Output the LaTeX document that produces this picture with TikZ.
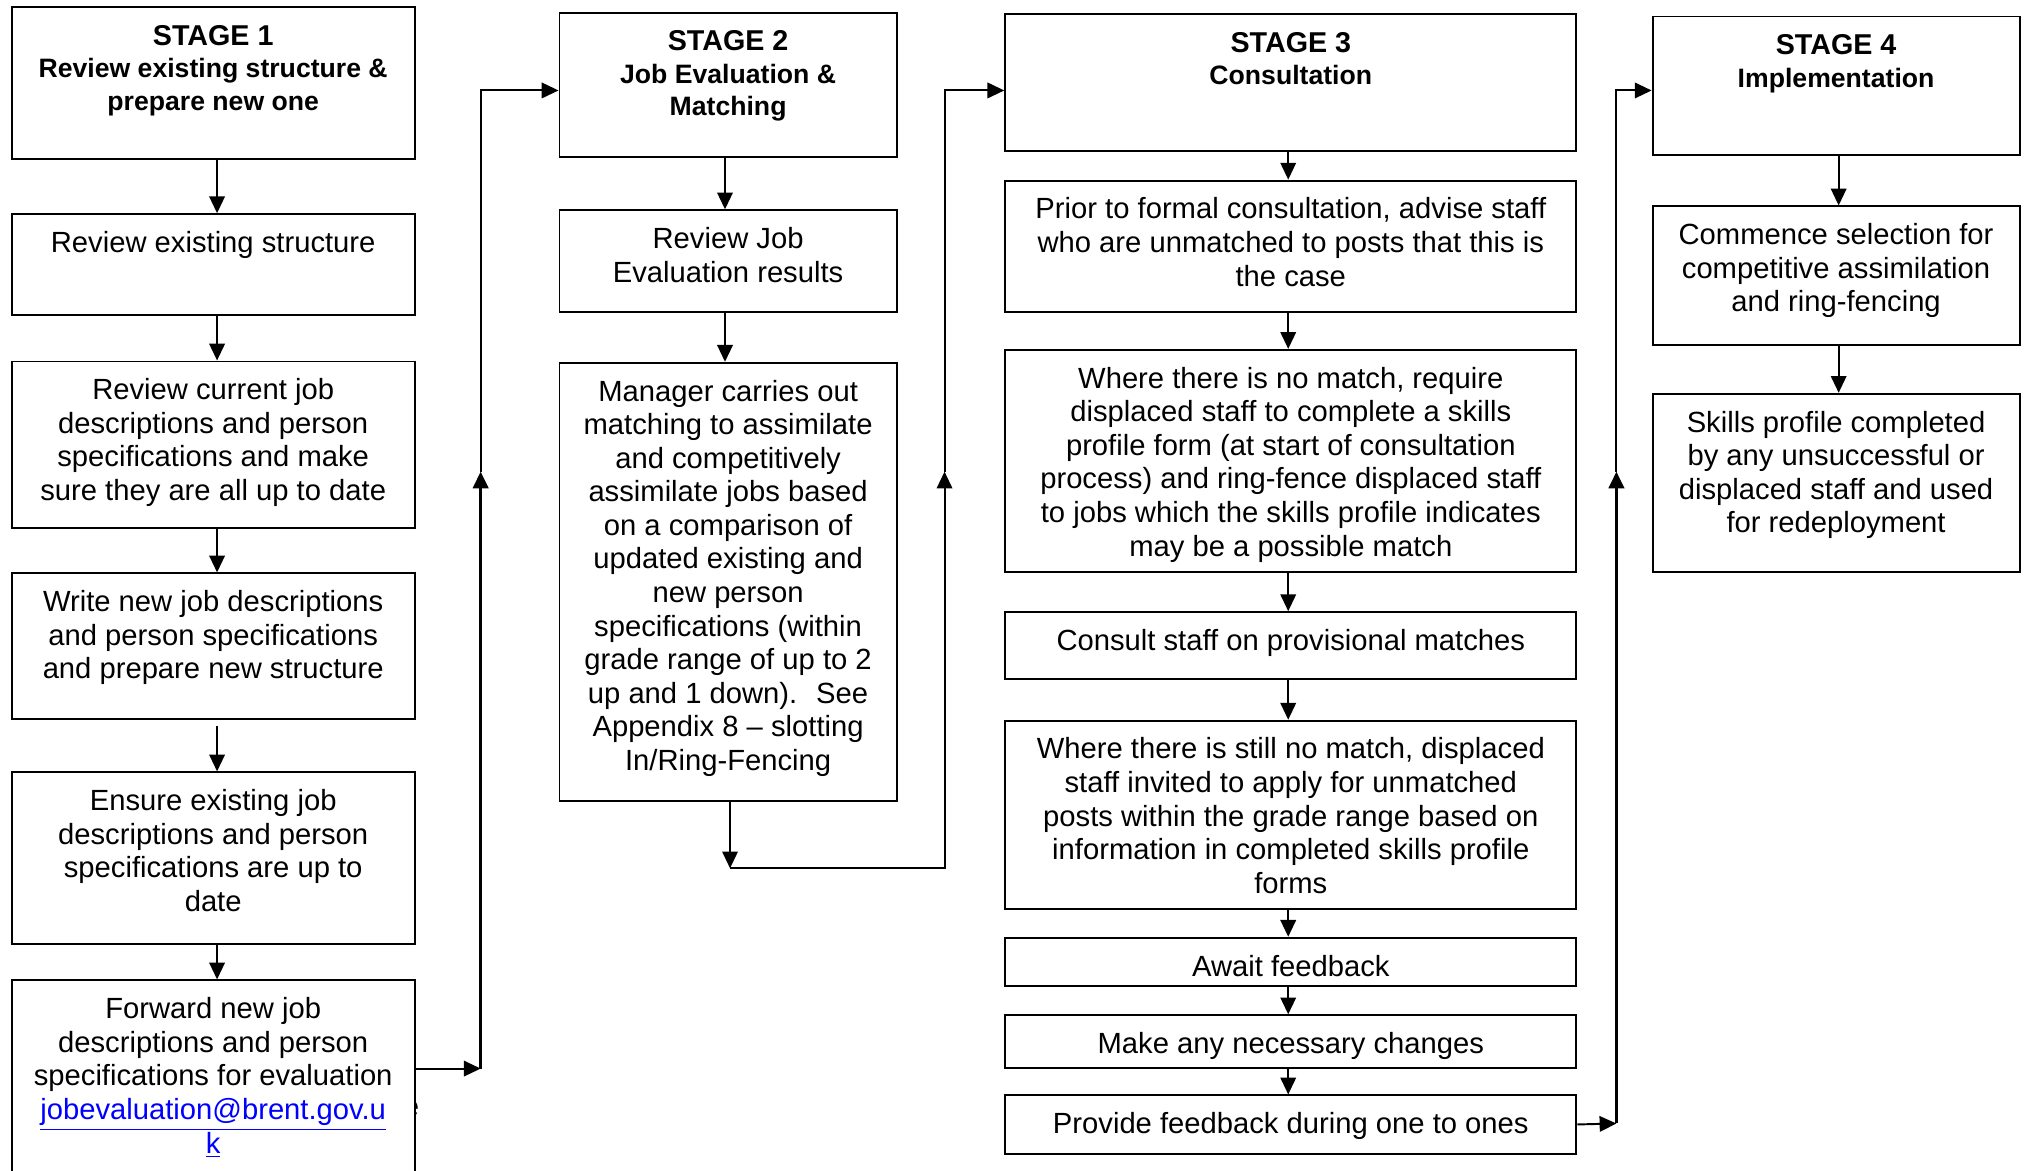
\documentclass[tikz,border=0pt]{standalone}
\usepackage{fontspec}
\setmainfont{Liberation Sans}
\usetikzlibrary{arrows.meta}
\definecolor{linkblue}{RGB}{0,0,255}
\newcommand\lnk[1]{\textcolor{linkblue}{\underline{#1}}}
\newcommand\tb[3]{\begin{minipage}[t][\dimexpr#2pt/2\relax][t]{\dimexpr#1pt/2\relax}\centering\fontsize{11.3}{13}\selectfont\rule{0pt}{14.8pt}#3\end{minipage}}
\newcommand\hb[4]{\begin{minipage}[t][\dimexpr#2pt/2\relax][t]{\dimexpr#1pt/2\relax}\centering\bfseries\fontsize{11.1}{12.5}\selectfont\rule{0pt}{14.8pt}#3\\\fontsize{10.3}{12.5}\selectfont #4\end{minipage}}
\tikzset{
  box/.style={draw, line width=0.75pt, inner sep=0pt, anchor=north},
  arr/.style={-{Triangle[length=6.5pt,width=6pt]}, line width=0.75pt},
  thickline/.style={line width=1.1pt},
}
\begin{document}
\begin{tikzpicture}[x=0.5pt,y=-0.5pt]
\useasboundingbox (0,0) rectangle (1568,906);
\clip (0,0) rectangle (1568,906);
% Column 1
\node[box] (s1) at (165,5) {\hb{312}{117}{STAGE 1}{Review existing structure \&\\prepare new one}};
\node[box] (b1a) at (165,165) {\tb{312}{78}{Review existing structure}};
\node[box] (b1b) at (165,279) {\tb{312}{129}{Review current job\\descriptions and person\\specifications and make\\sure they are all up to date}};
\node[box] (b1c) at (165,443) {\tb{312}{113}{Write new job descriptions\\and person specifications\\and prepare new structure}};
\node[box] (b1d) at (165,597) {\tb{312}{133}{Ensure existing job\\descriptions and person\\specifications are up to\\date}};
\node[inner sep=0pt] (stray) at (318,858) {\fontsize{11.3}{13}\selectfont e};
\node[box, fill=white] (b1e) at (165,758) {\tb{312}{172}{Forward new job\\descriptions and person\\specifications for evaluation\\\lnk{jobevaluation@brent.gov.u}\\\lnk{k}}};
% Column 2
\node[box] (s2) at (563.5,9) {\hb{261}{112}{STAGE 2}{Job Evaluation \&\\Matching}};
\node[box] (b2a) at (563.5,162) {\tb{261}{79}{Review Job\\Evaluation results}};
\node[box] (b2b) at (563.5,280) {\tb{261}{339}{Manager carries out\\matching to assimilate\\and competitively\\assimilate jobs based\\on a comparison of\\updated existing and\\new person\\specifications (within\\grade range of up to 2\\up and 1 down). \ See\\Appendix 8 -- slotting\\In/Ring-Fencing}};
% Column 3
\node[box] (s3) at (999,10) {\hb{442}{106}{STAGE 3}{Consultation}};
\node[box] (b3a) at (999,139) {\tb{442}{102}{Prior to formal consultation, advise staff\\who are unmatched to posts that this is\\the case}};
\node[box] (b3b) at (999,270) {\tb{442}{172}{Where there is no match, require\\displaced staff to complete a skills\\profile form (at start of consultation\\process) and ring-fence displaced staff\\to jobs which the skills profile indicates\\may be a possible match}};
\node[box] (b3c) at (999,473) {\tb{442}{52}{Consult staff on provisional matches}};
\node[box] (b3d) at (999,557) {\tb{442}{146}{Where there is still no match, displaced\\staff invited to apply for unmatched\\posts within the grade range based on\\information in completed skills profile\\forms}};
\node[box] (b3e) at (999,725) {\tb{442}{37}{Await feedback}};
\node[box] (b3f) at (999,785) {\tb{442}{41}{Make any necessary changes}};
\node[box] (b3g) at (999,847) {\tb{442}{45}{Provide feedback during one to ones}};
% Column 4
\node[box] (s4) at (1421,12) {\hb{284}{107}{STAGE 4}{Implementation}};
\node[box] (b4a) at (1421,159) {\tb{284}{107}{Commence selection for\\competitive assimilation\\and ring-fencing}};
\node[box] (b4b) at (1421,304) {\tb{284}{138}{Skills profile completed\\by any unsuccessful or\\displaced staff and used\\for redeployment}};
% vertical arrows within columns
\draw[arr] ([xshift=1.5pt]s1.south) -- ([xshift=1.5pt]b1a.north);
\draw[arr] ([xshift=1.5pt]b1a.south) -- ([xshift=1.5pt]b1b.north);
\draw[arr] ([xshift=1.5pt]b1b.south) -- ([xshift=1.5pt]b1c.north);
\draw[arr] ([xshift=1.5pt,yshift=-2pt]b1c.south) -- ([xshift=1.5pt]b1d.north);
\draw[arr] ([xshift=1.5pt]b1d.south) -- ([xshift=1.5pt]b1e.north);
\draw[arr] ([xshift=-1.2pt]s2.south) -- ([xshift=-1.2pt]b2a.north);
\draw[arr] ([xshift=-1.2pt]b2a.south) -- ([xshift=-1.2pt]b2b.north);
\draw[arr] ([xshift=-1pt]s3.south) -- ([xshift=-1pt]b3a.north);
\draw[arr] ([xshift=-1pt]b3a.south) -- ([xshift=-1pt]b3b.north);
\draw[arr] ([xshift=-1pt]b3b.south) -- ([xshift=-1pt]b3c.north);
\draw[arr] ([xshift=-1pt]b3c.south) -- ([xshift=-1pt]b3d.north);
\draw[arr] ([xshift=-1pt]b3d.south) -- ([xshift=-1pt]b3e.north);
\draw[arr] ([xshift=-1pt]b3e.south) -- ([xshift=-1pt]b3f.north);
\draw[arr] ([xshift=-1pt]b3f.south) -- ([xshift=-1pt]b3g.north);
\draw[arr] ([xshift=1pt]s4.south) -- ([xshift=1pt]b4a.north);
\draw[arr] ([xshift=1pt]b4a.south) -- ([xshift=1pt]b4b.north);
% connector stage 1 -> stage 2
\coordinate (c1a) at (372,827);
\coordinate (c1m) at (372,365);
\coordinate (c1t) at (372,70);
\draw[arr] (b1e.east |- c1a) -- (c1a);
\draw[arr, thickline] (c1a) -- (c1m);
\draw[arr] (c1m) -- (c1t) -- (s2.west |- c1t);
% connector stage 2 -> stage 3
\coordinate (c2a) at (565,672);
\coordinate (c2b) at (731,672);
\coordinate (c2m) at (731,365);
\coordinate (c2t) at (731,70);
\draw[arr] (b2b.south -| c2a) -- (c2a);
\draw[arr] (c2a) -- (c2b) -- (c2m);
\draw[arr] (c2m) -- (c2t) -- (s3.west |- c2t);
% connector stage 3 -> stage 4
\coordinate (c3a) at (1251,869.5);
\coordinate (c3m) at (1251,365);
\coordinate (c3t) at (1251,70);
\draw[arr] (b3g.east) -- (c3a);
\draw[arr, thickline] (c3a) -- (c3m);
\draw[arr] (c3m) -- (c3t) -- (s4.west |- c3t);
\end{tikzpicture}
\end{document}
